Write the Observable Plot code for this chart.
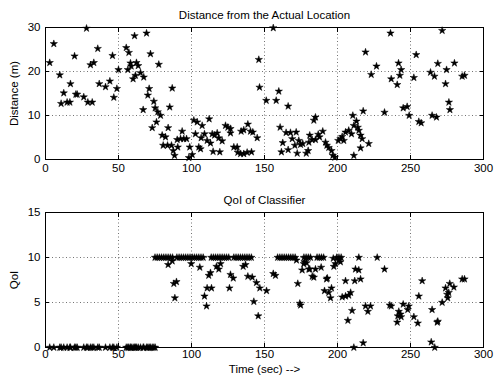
<!DOCTYPE html>
<html><head><meta charset="utf-8">
<script src="https://cdn.jsdelivr.net/npm/d3@7"></script>
<script src="https://cdn.jsdelivr.net/npm/@observablehq/plot@0.6"></script>
<style>
body{margin:0;background:#fff;}
#wrap{width:497px;height:377px;}
#wrap svg{display:block;}
</style></head><body><div id="wrap"></div>
<script>
const xTicks = [0, 50, 100, 150, 200, 250, 300];
const distTicks = [0, 10, 20, 30];
const qoiTicks = [0, 5, 10, 15];

// [time (sec), distance (m)]
const distance = [
[2.9,22.0],[5.7,26.3],[9.8,19.2],[10.7,12.7],[12.5,15.1],[14.8,13.0],[16.7,13.0],[17.1,17.2],[19.9,23.5],[20.8,14.8],[21.7,14.8],[26.2,14.2],[28.1,29.8],[29.0,13.0],[30.8,21.5],[32.0,13.0],[33.1,22.0],[35.8,25.2],[36.8,17.2],[41.1,16.5],[44.1,17.8],[45.9,23.6],[46.8,14.1],[48.9,16.1],[50.0,20.4],[55.3,25.4],[56.4,20.4],[57.1,24.3],[58.2,21.9],[58.7,21.2],[60.0,18.3],[61.0,28.1],[61.6,19.1],[62.3,22.0],[63.5,21.3],[65.1,19.7],[66.9,11.3],[67.3,18.7],[69.2,28.7],[70.1,14.6],[71.0,16.1],[71.9,24.0],[73.1,7.2],[74.2,13.2],[75.1,11.7],[76.0,8.5],[76.9,10.8],[77.6,21.6],[78.8,10.0],[79.9,5.5],[80.6,3.2],[82.2,5.1],[83.6,3.2],[84.0,7.2],[85.1,11.9],[86.3,3.2],[86.8,16.2],[87.5,2.0],[88.4,0.9],[90.2,4.5],[90.6,2.8],[92.5,4.7],[93.6,6.4],[94.7,4.7],[96.6,4.7],[98.2,0.4],[98.8,2.8],[100.5,1.1],[101.6,8.9],[102.7,5.8],[103.9,8.5],[105.0,2.8],[106.2,2.4],[106.6,4.9],[107.3,7.7],[108.9,5.8],[110.7,4.3],[112.1,9.2],[113.0,3.7],[114.2,5.8],[114.8,1.8],[115.8,5.5],[117.6,6.0],[118.7,4.9],[119.4,1.7],[121.0,4.2],[123.3,7.7],[124.9,7.3],[126.7,6.0],[126.7,7.0],[129.0,2.8],[131.3,2.8],[131.7,1.6],[133.6,1.3],[134.0,6.4],[135.8,6.7],[135.8,1.3],[138.1,1.6],[138.6,8.0],[140.4,6.4],[141.1,1.7],[142.0,6.2],[145.0,4.9],[146.1,22.7],[146.6,16.4],[151.2,13.4],[156.0,29.9],[158.0,13.4],[159.8,15.5],[160.7,7.3],[161.6,1.7],[162.5,3.8],[164.8,6.1],[166.2,12.1],[166.2,2.2],[167.8,6.1],[169.0,4.7],[170.8,3.2],[171.7,6.2],[172.4,1.4],[173.5,4.3],[174.7,3.4],[176.2,3.6],[178.6,1.4],[179.9,2.0],[180.4,3.9],[181.0,5.5],[182.6,4.5],[183.8,8.9],[184.9,9.6],[184.9,4.5],[186.8,5.7],[187.7,5.1],[189.9,6.4],[191.8,3.9],[192.7,3.2],[194.0,2.7],[195.9,2.0],[196.8,0.9],[198.2,0.5],[200.5,4.3],[202.0,4.7],[203.2,5.2],[204.3,4.3],[205.5,6.2],[207.7,6.6],[209.6,5.8],[210.5,10.0],[211.2,7.7],[211.2,0.9],[213.0,8.7],[213.9,7.3],[214.6,6.6],[215.8,5.5],[215.8,2.6],[216.9,4.7],[217.6,11.0],[219.2,24.4],[221.4,3.6],[223.1,19.3],[226.7,21.2],[232.2,10.7],[236.3,28.7],[236.8,18.3],[240.9,17.0],[241.8,21.9],[242.7,19.1],[243.6,20.4],[245.0,11.7],[247.7,12.0],[249.1,10.0],[252.3,18.6],[253.9,23.8],[255.7,8.6],[257.3,8.3],[263.7,19.8],[264.8,10.0],[266.4,18.9],[267.8,9.6],[268.7,21.8],[271.7,29.3],[274.0,17.2],[274.7,20.4],[276.3,13.0],[277.0,11.3],[280.1,21.9],[285.4,18.9],[287.0,19.1]
];

// times at which QoI = 0 and QoI = 10
const qoiZeroTimes = [2.9,5.7,9.8,10.7,12.5,14.8,16.7,17.1,19.9,20.8,21.7,26.2,28.1,29.0,30.8,32.0,33.1,35.8,36.8,41.1,44.1,45.9,46.8,48.9,55.3,56.4,57.1,58.2,58.7,60.0,61.0,61.6,62.3,63.5,65.1,66.9,67.3,69.2,70.1,71.0,71.9,73.1,74.2,75.1];
const qoiTenTimes = [75.0,76.5,78.0,79.5,81.0,82.5,84.0,85.5,87.0,90.0,91.5,93.0,94.5,96.0,97.5,99.0,100.5,102.0,103.5,105.0,106.5,108.0,113.5,115.0,116.5,118.0,119.5,121.0,122.5,124.0,125.5,129.0,130.5,132.0,133.5,135.0,136.5,138.0,139.5,141.0,159.0,160.5,162.0,163.5,165.0,166.5,168.0,169.5,171.0,177.0,178.5,180.0,181.5,186.0,187.5,189.0,190.5,199.5,201.0,202.5,214.6,227.2];
// other [time, QoI] readings
const qoiOther = [
[84.0,9.2],[86.8,9.6],[87.9,7.1],[89.7,7.3],[88.6,5.5],[99.8,9.3],[105.7,8.9],[108.9,5.7],[110.3,4.6],[110.7,6.6],[113.7,6.6],[111.8,8.0],[113.0,8.3],[117.1,9.0],[118.7,8.7],[119.9,9.3],[126.0,6.6],[126.7,8.1],[128.6,7.7],[135.4,9.0],[137.0,9.2],[138.6,7.9],[141.6,7.8],[142.7,5.1],[144.5,7.2],[145.7,3.5],[146.8,6.6],[151.4,6.3],[156.0,8.2],[157.5,8.0],[171.9,9.7],[172.8,7.1],[174.2,4.9],[174.7,4.7],[175.8,8.6],[176.9,9.3],[177.4,9.5],[178.8,9.4],[180.4,8.7],[181.0,8.7],[182.7,7.9],[183.8,7.8],[184.9,8.7],[188.8,8.9],[191.1,6.3],[192.5,7.6],[193.0,7.7],[194.0,6.1],[195.2,5.5],[195.9,6.6],[197.1,9.9],[197.5,9.0],[198.6,9.3],[200.9,9.7],[202.0,9.5],[203.2,5.6],[205.5,5.7],[205.5,7.4],[207.1,3.0],[207.7,5.8],[209.0,6.1],[210.0,4.1],[211.2,0.0],[211.8,7.4],[212.3,8.7],[214.6,8.6],[215.8,7.6],[217.6,0.5],[219.2,4.6],[220.8,4.0],[222.6,4.6],[232.2,8.7],[235.8,4.7],[236.8,4.6],[240.9,2.8],[241.3,3.5],[242.0,4.0],[243.2,3.7],[243.6,3.4],[245.0,4.8],[248.1,4.2],[248.8,4.6],[252.3,3.4],[255.0,2.7],[255.7,5.7],[258.0,7.4],[264.2,0.6],[264.8,4.2],[266.6,0.0],[268.3,2.8],[268.7,2.9],[271.7,5.0],[274.0,6.6],[275.1,5.9],[275.5,5.5],[276.2,6.1],[276.9,7.1],[279.7,6.7],[285.4,7.6],[287.0,7.6]
];

const distData = distance.map(([t, v]) => ({t, v}));
const qoiData = [
  ...qoiZeroTimes.map(t => ({t, v: 0})),
  ...qoiTenTimes.map(t => ({t, v: 10})),
  ...qoiOther.map(([t, v]) => ({t, v}))
];

const font = "'Liberation Sans', Arial, Helvetica, sans-serif";

function panel({data, yDomain, yTicks, title, ylabel, xlabel, height, marginBottom, xPad}) {
  const marks = [
    Plot.gridX(xTicks.slice(1, -1), {stroke: "#000", strokeOpacity: 0.55, strokeDasharray: "1,2.5"}),
    Plot.gridY(yTicks.slice(1, -1), {stroke: "#000", strokeOpacity: 0.55, strokeDasharray: "1,2.5"}),
    Plot.axisX(xTicks, {anchor: "bottom", tickSize: -4, tickPadding: xPad, label: null}),
    Plot.axisX(xTicks, {anchor: "top", tickSize: -4, tickFormat: () => "", label: null}),
    Plot.axisY(yTicks, {anchor: "left", tickSize: -4, tickPadding: 9, label: null}),
    Plot.axisY(yTicks, {anchor: "right", tickSize: -4, tickFormat: () => "", label: null}),
    Plot.frame({stroke: "#000"}),
    Plot.dot(data, {x: "t", y: "v", symbol: "star", r: 2.3, fill: "#000", stroke: "#000", strokeWidth: 0.5}),
    Plot.text([title], {text: d => d, frameAnchor: "top", dy: -12, lineAnchor: "middle", fontSize: 11.5}),
    Plot.text([ylabel], {text: d => d, frameAnchor: "left", dx: -31, rotate: -90, lineAnchor: "middle", textAnchor: "middle", fontSize: 11.5})
  ];
  if (xlabel) marks.push(Plot.text([xlabel], {text: d => d, frameAnchor: "bottom", dy: 22, lineAnchor: "middle", fontSize: 11.5}));
  return Plot.plot({
    width: 497, height,
    marginLeft: 45, marginRight: 14, marginTop: 27, marginBottom,
    x: {domain: [0, 300]},
    y: {domain: yDomain},
    style: {fontFamily: font, fontSize: "11.5px", color: "#000", background: "#fff", overflow: "visible"},
    marks
  });
}

const wrap = document.getElementById("wrap");
wrap.append(panel({data: distData, yDomain: [0, 30], yTicks: distTicks, title: "Distance from the Actual Location", ylabel: "Distance (m)", height: 185, marginBottom: 26, xPad: 8}));
wrap.append(panel({data: qoiData, yDomain: [0, 15], yTicks: qoiTicks, title: "QoI of Classifier", ylabel: "QoI", xlabel: "Time (sec) -->", height: 192, marginBottom: 30, xPad: 6}));
</script></body></html>
